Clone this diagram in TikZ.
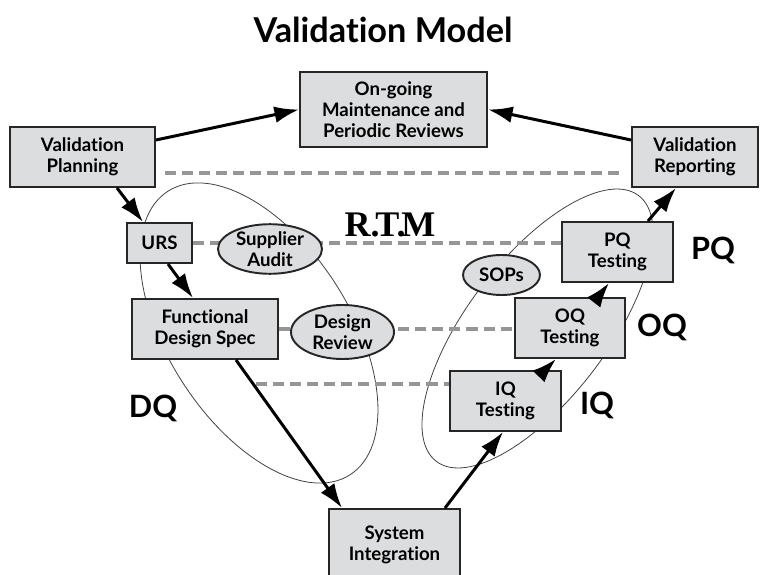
\documentclass[tikz,border=0pt]{standalone}
\usepackage{fontspec}
\setmainfont[Ligatures=NoCommon]{Lato}
\newfontfamily\rtmfont{Liberation Serif}
\usepackage{tikz}
\usetikzlibrary{arrows.meta,backgrounds,shapes.geometric}

\definecolor{boxgray}{RGB}{220,221,223}
\definecolor{rtmgray}{RGB}{150,150,150}

\tikzset{
	box/.style={draw=black!85,line width=1.1pt,fill=boxgray,align=center,font=\bfseries\fontsize{10.6}{12}\selectfont,inner sep=2pt},
	bubble/.style={ellipse,draw=black!85,line width=1.1pt,fill=boxgray,align=center,font=\bfseries\fontsize{10.6}{12}\selectfont,inner sep=0pt},
	flow/.style={line width=1.7pt,-{Latex[length=14pt,width=9.5pt]}},
	rtmline/.style={rtmgray,line width=2.2pt,dash pattern=on 6.3pt off 3.4pt},
	qloop/.style={black!75,line width=0.45pt},
	phase/.style={font=\bfseries\fontsize{17.5}{19}\selectfont}
}

\begin{document}
\begin{tikzpicture}
		\useasboundingbox (0,0) rectangle (15.32,11.48);
		\node [font=\bfseries\fontsize{19.5}{21}\selectfont] (title) at (7.66,10.88) {Validation Model};
		
		\node [box,minimum width=3.74cm,minimum height=1.5cm] (ongoing) at (7.87,9.29) {On-going\\Maintenance and\\Periodic Reviews};
		\node [box,minimum width=2.9cm,minimum height=1.2cm] (planning) at (1.65,8.34) {Validation\\Planning};
		\node [box,minimum width=2.52cm,minimum height=1.2cm] (reporting) at (13.9,8.34) {Validation\\Reporting};
		\node [box,minimum width=1.3cm,minimum height=0.8cm] (urs) at (3.19,6.62) {URS};
		\node [box,minimum width=2.92cm,minimum height=1.2cm] (fds) at (4.1,4.9) {Functional\\Design Spec};
		\node [box,minimum width=2.22cm,minimum height=1.2cm] (pq) at (12.35,6.44) {PQ\\Testing};
		\node [box,minimum width=2.2cm,minimum height=1.2cm] (oq) at (11.4,4.92) {OQ\\Testing};
		\node [box,minimum width=2.22cm,minimum height=1.2cm] (iq) at (10.11,3.46) {IQ\\Testing};
		\node [box,minimum width=2.62cm,minimum height=1.44cm] (si) at (7.89,0.58) {System\\Integration};
		
		\node [bubble,minimum width=2.08cm,minimum height=0.96cm] (audit) at (5.4,6.5) {Supplier\\Audit};
		\node [bubble,minimum width=2.06cm,minimum height=1.08cm] (review) at (6.85,4.84) {Design\\Review};
		\node [bubble,minimum width=1.54cm,minimum height=0.8cm] (sops) at (10.03,5.98) {SOPs};
		
		\node [font=\rtmfont\bfseries\fontsize{20.5}{22}\selectfont] (rtm) at (7.8,6.98) {R.\kern-2.5pt T.\kern-2.5pt M};
		\node [phase] (pqlabel) at (14.26,6.48) {PQ};
		\node [phase] (oqlabel) at (13.24,4.94) {OQ};
		\node [phase] (iqlabel) at (11.94,3.38) {IQ};
		\node [phase] (dqlabel) at (3.06,3.32) {DQ};
		
		\coordinate (topstart) at (3.3,8.02);
		\coordinate (topend) at (12.4,8.02);
		\coordinate (iqstart) at (5.12,3.8);
		
		\begin{scope}[on background layer]
		\draw [qloop,rotate around={-57.3:(5.18,4.82)}] (5.18,4.82) ellipse (3.37cm and 1.82cm);
		\draw [qloop,rotate around={52.7:(10.75,4.91)}] (10.75,4.91) ellipse (3.34cm and 1.4cm);
		\draw [rtmline] (topstart) -- (topend);
		\draw [rtmline] (urs.east) -- (urs.east -| pq.west);
		\draw [rtmline] (fds.east) -- (fds.east -| oq.west);
		\draw [rtmline] (iqstart) -- (iqstart -| iq.west);
		\end{scope}
		
		\draw [flow] ([yshift=0.34cm]planning.east) -- (ongoing.west);
		\draw [flow] ([yshift=0.34cm]reporting.west) -- (ongoing.east);
		\draw [flow] ([xshift=0.69cm]planning.south) -- ([xshift=-0.33cm]urs.north);
		\draw [flow] ([xshift=0.17cm]urs.south) -- ([xshift=-0.24cm]fds.north);
		\draw [flow] ([xshift=0.62cm]fds.south) -- ([xshift=-1.05cm]si.north);
		\draw [flow] ([xshift=1.01cm]si.north) -- ([xshift=-0.05cm]iq.south);
		\draw [flow] ([xshift=0.79cm]iq.north) -- ([xshift=-0.28cm]oq.south);
		\draw [flow] ([xshift=0.56cm]oq.north) -- ([xshift=-0.17cm]pq.south);
		\draw [flow] ([xshift=0.61cm]pq.north) -- ([xshift=-0.38cm]reporting.south);
\end{tikzpicture}
\end{document}
